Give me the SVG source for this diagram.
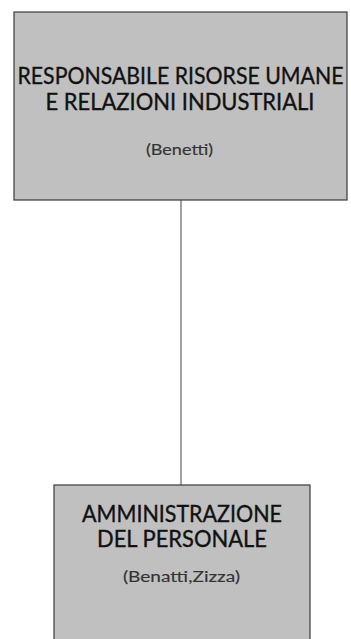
<svg xmlns="http://www.w3.org/2000/svg" width="351" height="639" viewBox="0 0 351 639">
<style>
.box{fill:#c0c0c0;stroke:#3a3a3a;stroke-width:1.2}
.t{font-family:Lato,"Open Sans","DejaVu Sans",sans-serif;fill:#111;text-anchor:middle}
.h{font-size:22.5px;stroke:#111;stroke-width:0.35}
.s{font-size:15.5px;fill:#333;stroke:#333;stroke-width:0.15}
.c{stroke:#444;stroke-width:1;fill:none}
</style>
<rect width="351" height="639" fill="#fff"/>
<g id="connectors">
<line class="c" x1="181" y1="200" x2="181" y2="485"/>
</g>
<g id="node-hr">
<rect class="box" x="14" y="12" width="333" height="188"/>
<text class="t h" x="180.5" y="83.5" textLength="326" lengthAdjust="spacingAndGlyphs">RESPONSABILE RISORSE UMANE</text>
<text class="t h" x="180" y="109.5" textLength="269" lengthAdjust="spacingAndGlyphs">E RELAZIONI INDUSTRIALI</text>
<text class="t s" x="179.5" y="154.5" textLength="67" lengthAdjust="spacingAndGlyphs">(Benetti)</text>
</g>
<g id="node-admin">
<rect class="box" x="54" y="485" width="256" height="170"/>
<text class="t h" x="182" y="521.5" textLength="200" lengthAdjust="spacingAndGlyphs">AMMINISTRAZIONE</text>
<text class="t h" x="182" y="546.5" textLength="170" lengthAdjust="spacingAndGlyphs">DEL PERSONALE</text>
<text class="t s" x="181.5" y="582" textLength="117" lengthAdjust="spacingAndGlyphs">(Benatti,Zizza)</text>
</g>
</svg>
